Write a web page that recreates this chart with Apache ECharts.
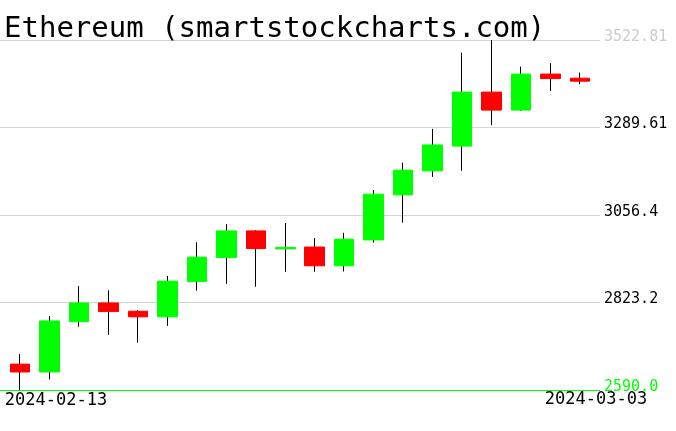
<!DOCTYPE html>
<html>
<head>
<meta charset="utf-8">
<script src="https://cdn.jsdelivr.net/npm/echarts@6/dist/echarts.min.js"></script>
<style>
html,body{margin:0;padding:0;background:#fff;}
#c{width:676px;height:431px;}
</style>
</head>
<body>
<div id="c"></div>
<script>
const titleText = 'Ethereum (smartstockcharts.com)';
const dates = ['2024-02-13','2024-02-14','2024-02-15','2024-02-16','2024-02-17','2024-02-18','2024-02-19','2024-02-20','2024-02-21','2024-02-22','2024-02-23','2024-02-24','2024-02-25','2024-02-26','2024-02-27','2024-02-28','2024-02-29','2024-03-01','2024-03-02','2024-03-03'];
const opens  = [2659, 2638, 2772, 2822, 2800, 2785, 2879, 2943, 3014, 2966, 2971, 2921, 2990, 3110, 3174, 3240, 3384, 3336, 3432, 3421];
const closes = [2638, 2774, 2822, 2799, 2785, 2880, 2944, 3014, 2967, 2970, 2921, 2992, 3112, 3176, 3243, 3384, 3336, 3432, 3420, 3413];
const lows   = [2590, 2618, 2759, 2737, 2716, 2761, 2855, 2873, 2865, 2905, 2905, 2906, 2983, 3036, 3158, 3174, 3296, 3334, 3387, 3405];
const highs  = [2686, 2787, 2867, 2856, 2803, 2894, 2984, 3032, 3016, 3035, 2995, 3009, 3123, 3196, 3286, 3489, 3522.81, 3452, 3461, 3436];
const yTicks = ['2590.0', '2823.2', '3056.4', '3289.61', '3522.81'];
const yMin = 2590.0, yMax = 3522.81;

const wickData = dates.map((d, i) => [opens[i], closes[i], lows[i], highs[i]]);
const bodyData = dates.map((d, i) => [opens[i], closes[i], Math.min(opens[i], closes[i]), Math.max(opens[i], closes[i])]);

const chart = echarts.init(document.getElementById('c'), null, {renderer: 'canvas'});
chart.setOption({
  backgroundColor: '#ffffff',
  animation: false,
  title: {
    text: titleText,
    left: 4, top: 15, padding: 0,
    textStyle: {fontFamily: 'DejaVu Sans Mono', fontSize: 29, fontWeight: 'normal', color: '#000'}
  },
  grid: [
    {left: 5.3, top: 40, width: 589.4, height: 350, containLabel: false, outerBoundsMode: 'none'},
    {left: 0, top: 40, width: 600, height: 350, containLabel: false, outerBoundsMode: 'none'}
  ],
  xAxis: [
    {
      type: 'category', gridIndex: 0, data: dates, boundaryGap: true,
      axisLine: {show: false}, axisTick: {show: false}, splitLine: {show: false},
      axisLabel: {
        show: true, margin: 1, hideOverlap: false,
        interval: (i) => i === 0 || i === dates.length - 1,
        formatter: (v, i) => i === 0 ? '{a|' + v + '}' : '{b|' + v + '}',
        rich: {
          a: {fontFamily: 'DejaVu Sans Mono', fontSize: 17, lineHeight: 17, color: '#000', padding: [3, 0, 0, 72]},
          b: {fontFamily: 'DejaVu Sans Mono', fontSize: 17, lineHeight: 17, color: '#000', padding: [0, 0, 0, 32]}
        }
      }
    },
    {type: 'value', gridIndex: 1, show: false, min: 0, max: 1}
  ],
  yAxis: [
    {type: 'value', gridIndex: 0, min: yMin, max: yMax, show: false},
    {
      type: 'value', gridIndex: 1, position: 'right', min: 0, max: yTicks.length - 1, interval: 1,
      axisLine: {show: false}, axisTick: {show: false},
      splitLine: {show: true, lineStyle: {color: ['#00ff00', '#d3d3d3', '#d3d3d3', '#d3d3d3', '#d3d3d3'], width: 1}},
      axisLabel: {
        show: true, margin: 4, align: 'left', verticalAlign: 'bottom',
        fontFamily: 'DejaVu Sans Mono', fontSize: 15, lineHeight: 6,
        formatter: (v, i) => yTicks[Math.round(v)],
        color: (v, i) => {
          const k = Math.round(Number(v));
          if (k === 0) return '#00ff00';
          if (k === yTicks.length - 1) return '#cccccc';
          return '#000000';
        }
      }
    }
  ],
  series: [
    {
      type: 'candlestick', name: 'wick', xAxisIndex: 0, yAxisIndex: 0,
      data: wickData, barWidth: 1, z: 2,
      itemStyle: {color: '#000', color0: '#000', borderColor: '#000', borderColor0: '#000', borderWidth: 1}
    },
    {
      type: 'candlestick', name: 'body', xAxisIndex: 0, yAxisIndex: 0,
      data: bodyData, barWidth: 20, z: 3,
      itemStyle: {color: '#00ff00', color0: '#ff0000', borderColor: '#00ff00', borderColor0: '#ff0000', borderWidth: 1}
    }
  ]
});
</script>
</body>
</html>
